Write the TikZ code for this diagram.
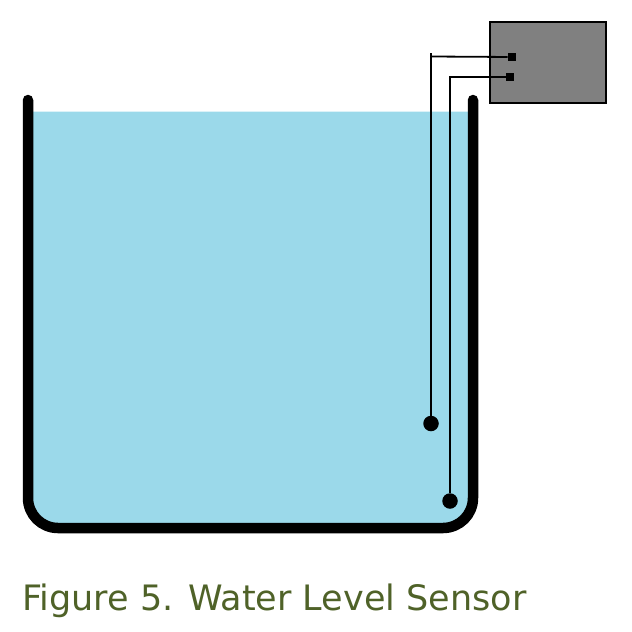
\documentclass[tikz,border=0pt]{standalone}
\usepackage{fontspec}
\setmainfont{DejaVu Sans}
\definecolor{water}{HTML}{9BD9EA}
\definecolor{boxgray}{HTML}{808080}
\definecolor{caption}{HTML}{4F6228}
\tikzset{
  wire/.style={draw=black,line width=1.8pt},
  terminal/.style={fill=black,inner sep=0pt,minimum width=8.5pt,minimum height=8pt},
  sensor/.style={circle,fill=black,inner sep=0pt,minimum size=15.5pt},
  tank/.style={draw=black,line width=10.5pt,line cap=round},
}
\begin{document}
\begin{tikzpicture}[x=1pt,y=-1pt]
\useasboundingbox (0,0) rectangle (632,632);
\fill[water] (28,111.5) -- (473,111.5) -- (473,498) arc[start angle=0,end angle=90,radius=30] -- (58,528) arc[start angle=90,end angle=180,radius=30] -- cycle;
\draw[tank] (28,100) -- (28,498) arc[start angle=180,end angle=90,radius=30] -- (443,528) arc[start angle=90,end angle=0,radius=30] -- (473,100);
\node[draw=black,line width=2pt,fill=boxgray,minimum width=116pt,minimum height=81pt,inner sep=0pt] (box) at (548,62.5) {};
\node[terminal] (t1) at (512,57) {};
\node[terminal] (t2) at (510,77) {};
\node[sensor] (s1) at (431,423.5) {};
\node[sensor] (s2) at (450,501) {};
\coordinate (c1) at (431,53);
\coordinate (c1b) at (431,56.5);
\coordinate (c2) at (450,77);
\draw[wire] (s1) -- (c1);
\draw[wire] (c1b) -- (t1);
\draw[wire,line join=miter] (s2) -- (c2) -- (t2);
\node[anchor=base west,text=caption,font=\fontsize{35}{40}\selectfont,inner sep=0pt] (cap) at (22,610.5) {Figure 5. Water Level Sensor};
\end{tikzpicture}
\end{document}
